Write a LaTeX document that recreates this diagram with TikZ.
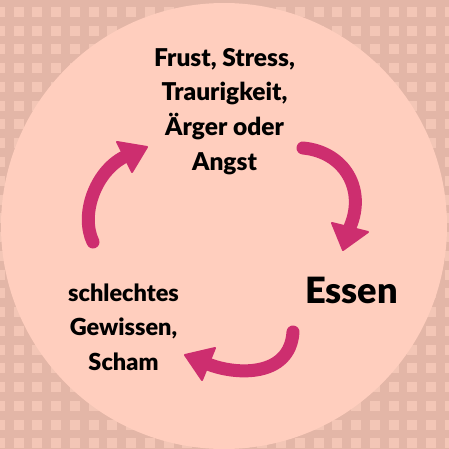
\documentclass[tikz,border=0pt]{standalone}
\usepackage{fontspec}
\setmainfont{Lato}
\newfontfamily\lblack{Lato Black}
\definecolor{bgdark}{HTML}{E3B6A7}
\definecolor{bgsq}{HTML}{F3C6B6}
\definecolor{disc}{HTML}{FFCEBE}
\definecolor{magenta}{HTML}{CD2E6F}
\tikzset{
  shaft/.style={draw=magenta, line width=13pt, line cap=round},
  headtri/.style={fill=magenta, draw=magenta, line width=2pt, line join=round},
  lbl/.style={inner sep=0pt, align=center, font=\lblack\fontsize{23.5}{34.5}\selectfont},
  lbltop/.style={inner sep=0pt, align=center, font=\lblack\fontsize{24.5}{34.5}\selectfont},
}
\begin{document}
\begin{tikzpicture}[x=1pt,y=-1pt]
\useasboundingbox (0,0) rectangle (449,449);
\fill[bgdark] (0,0) rectangle (449,449);
\foreach \i in {0,...,24}{
  \foreach \j in {0,...,24}{
    \fill[bgsq] ({-5.25+18.75*\i},{7+18.75*\j}) rectangle ++(10,10);
  }
}
\fill[disc] (224,226) circle[radius=223];
% texts (anchor = baseline of last line)
\node[lbltop, anchor=base] (trig) at (224.5,170) {Frust, Stress,\\Traurigkeit,\\Ärger oder\\Angst};
\node[inner sep=0pt, anchor=base, font=\lblack\fontsize{36.2}{40}\selectfont] (eat) at (351.5,303) {Essen};
\node[lbl, anchor=base] (guilt) at (123.5,370) {schlechtes\\Gewissen,\\Scham};
% arrow 1
\coordinate (a1s) at (303,148);
\coordinate (a1e) at (350,227);
\draw[shaft] (a1s) .. controls (345,152) and (366,190) .. (a1e);
\draw[headtri] (332,223) -- (368,232) -- (343,250) -- cycle;
% arrow 2
\coordinate (a2s) at (293,332);
\coordinate (a2e) at (208,364);
\draw[shaft] (a2s) .. controls (290,378) and (235,375) .. (a2e);
\draw[headtri] (215,348) -- (202,380) -- (185,355) -- cycle;
% arrow 3
\coordinate (a3s) at (93,242);
\coordinate (a3e) at (124,157);
\draw[shaft] (a3s) .. controls (80,215) and (95,172) .. (a3e);
\draw[headtri] (117,142) -- (147,147) -- (132,172) -- cycle;
\end{tikzpicture}
\end{document}
